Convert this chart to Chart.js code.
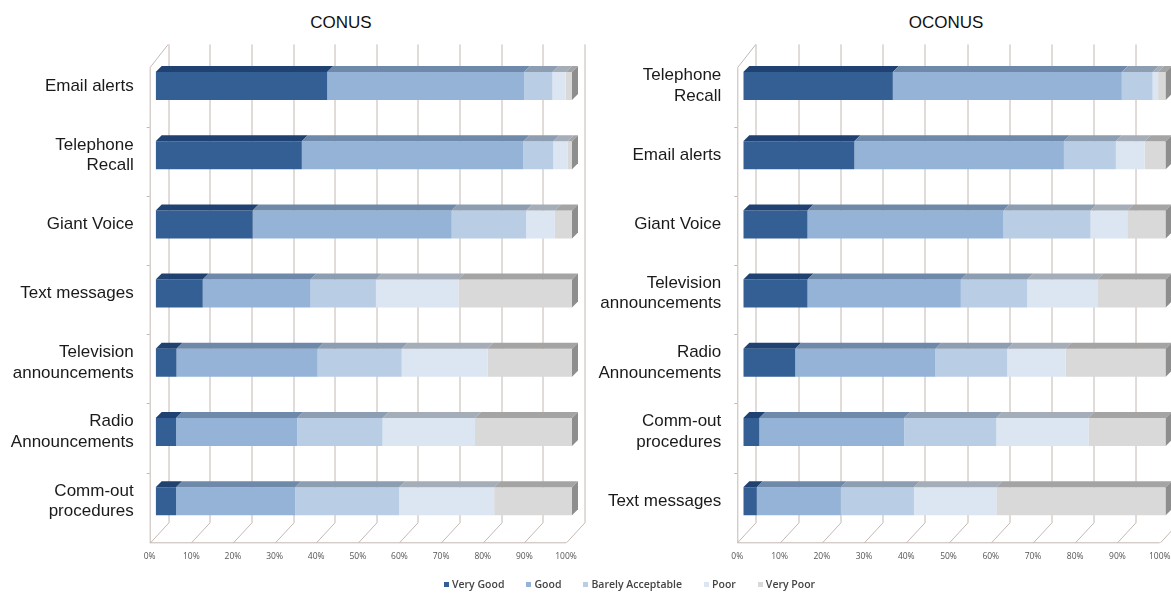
<!DOCTYPE html>
<html>
<head>
<meta charset="utf-8">
<script src="https://cdn.jsdelivr.net/npm/chart.js@4/dist/chart.umd.min.js"></script>
<style>
  body { margin: 0; width: 1171px; height: 593px; overflow: hidden; background: #fff; position: relative; font-family: 'Liberation Sans', Arial, sans-serif; }
  .panel { position: absolute; top: 0; height: 593px; }
  .title { position: absolute; top: 13px; width: 200px; text-align: center; font-size: 17px; color: #111; }
  #legend { position: absolute; left: 444px; top: 577px; font-family: 'Open Sans', sans-serif; font-size: 10.5px; font-weight: 600; color: #444; white-space: nowrap; z-index: 2; }
  #legend span.item { margin-right: 22px; }
  #legend i { display: inline-block; width: 5px; height: 5px; margin-right: 3px; vertical-align: 1px; }
</style>
</head>
<body>
<div class="title" style="left:241px">CONUS</div>
<div class="title" style="left:846px">OCONUS</div>
<div class="panel" style="left:0; width:590px"><canvas id="conusChart"></canvas></div>
<div class="panel" style="left:588px; width:596px"><canvas id="oconusChart"></canvas></div>
<div id="legend"></div>
<script>
const seriesNames = ['Very Good', 'Good', 'Barely Acceptable', 'Poor', 'Very Poor'];
const frontColors = ['#345f94', '#95b3d7', '#b9cde5', '#dce6f2', '#d9d9d9'];
const topColors = ['#1f4272', '#6f89aa', '#8d9db2', '#a5adb8', '#a4a4a4'];
const tickValues = [0, 10, 20, 30, 40, 50, 60, 70, 80, 90, 100];

// CONUS (top to bottom)
const conusCategories = ['Email alerts', ['Telephone', 'Recall'], 'Giant Voice', 'Text messages',
  ['Television', 'announcements'], ['Radio', 'Announcements'], ['Comm-out', 'procedures']];
const conusVeryGood = [41.2, 35.1, 23.3, 11.3, 5.0, 4.9, 4.9];
const conusGood = [47.3, 53.2, 47.8, 25.9, 33.9, 29.1, 28.6];
const conusBarely = [6.8, 7.2, 17.9, 15.7, 20.2, 20.5, 25.0];
const conusPoor = [3.2, 3.5, 6.9, 19.8, 20.6, 22.2, 22.8];
const conusVeryPoor = [1.5, 1.0, 4.1, 27.3, 20.3, 23.3, 18.7];

// OCONUS (top to bottom)
const oconusCategories = [['Telephone', 'Recall'], 'Email alerts', 'Giant Voice',
  ['Television', 'announcements'], ['Radio', 'Announcements'], ['Comm-out', 'procedures'], 'Text messages'];
const oconusVeryGood = [35.4, 26.3, 15.2, 15.2, 12.3, 3.8, 3.2];
const oconusGood = [54.2, 49.6, 46.4, 36.3, 33.2, 34.3, 19.9];
const oconusBarely = [7.3, 12.3, 20.6, 15.7, 17.0, 21.8, 17.3];
const oconusPoor = [1.3, 6.8, 8.7, 16.6, 13.8, 21.8, 19.5];
const oconusVeryPoor = [1.8, 5.0, 9.1, 16.2, 23.7, 18.3, 40.1];

const DEPTH = 6;       // bar top face
const WALL_DX = 12.5;  // back wall shift
const FLOOR_DX = 6;    // front floor shift
const gridColor = '#c4b8b2';

const depthPlugin = {
  id: 'depth3d',
  beforeDatasetsDraw(chart) {
    const { ctx, chartArea: a, scales: { x, y } } = chart;
    const backTop = a.top - 7, backBottom = a.bottom - 13, floorFront = a.bottom + 7;
    const x0 = x.getPixelForValue(0), x100 = x.getPixelForValue(100);
    ctx.save();
    ctx.strokeStyle = gridColor;
    ctx.lineWidth = 1;
    tickValues.forEach(v => {
      const px = Math.round(x.getPixelForValue(v)) + 0.5;
      ctx.beginPath();
      ctx.moveTo(px + WALL_DX, backTop);
      ctx.lineTo(px + WALL_DX, backBottom);
      ctx.lineTo(px - FLOOR_DX, floorFront);
      ctx.stroke();
    });
    ctx.beginPath();
    ctx.moveTo(x0 - FLOOR_DX, floorFront);
    ctx.lineTo(x100 - FLOOR_DX, floorFront);
    // left wall
    ctx.moveTo(x0 + WALL_DX, backTop);
    ctx.lineTo(x0 - FLOOR_DX + 0.5, backTop + 23);
    ctx.lineTo(x0 - FLOOR_DX + 0.5, floorFront);
    for (let i = 1; i < y.ticks.length; i++) {
      const py = Math.round((y.getPixelForTick(i - 1) + y.getPixelForTick(i)) / 2 + 6) + 0.5;
      ctx.moveTo(x0 - FLOOR_DX - 3, py);
      ctx.lineTo(x0 - FLOOR_DX, py);
    }
    ctx.stroke();
    ctx.restore();
  },
  afterDatasetsDraw(chart) {
    const ctx = chart.ctx;
    const last = chart.data.datasets.length - 1;
    ctx.save();
    chart.data.datasets.forEach((ds, i) => {
      chart.getDatasetMeta(i).data.forEach(bar => {
        const { x, y, base, height } = bar.getProps(['x', 'y', 'base', 'height'], true);
        if (Math.abs(x - base) < 0.5) return;
        const l = Math.min(x, base), r = Math.max(x, base), t = y - height / 2;
        ctx.fillStyle = topColors[i];
        ctx.beginPath();
        ctx.moveTo(l, t);
        ctx.lineTo(l + DEPTH, t - DEPTH);
        ctx.lineTo(r + DEPTH, t - DEPTH);
        ctx.lineTo(r, t);
        ctx.closePath();
        ctx.fill();
        if (i === last) {
          ctx.fillStyle = '#8e8e8e';
          ctx.beginPath();
          ctx.moveTo(r, t);
          ctx.lineTo(r + DEPTH, t - DEPTH);
          ctx.lineTo(r + DEPTH, t + height - DEPTH);
          ctx.lineTo(r, t + height);
          ctx.closePath();
          ctx.fill();
        }
      });
    });
    ctx.restore();
  }
};

function makeChart(id, labels, series, yWidth, padRight) {
  return new Chart(document.getElementById(id), {
    type: 'bar',
    data: {
      labels: labels,
      datasets: series.map((data, i) => ({
        label: seriesNames[i],
        data: data,
        backgroundColor: frontColors[i],
        borderWidth: 0,
        barPercentage: 0.405,
        categoryPercentage: 1
      }))
    },
    options: {
      indexAxis: 'y',
      responsive: true,
      maintainAspectRatio: false,
      animation: false,
      layout: { padding: { top: 51.4, right: padRight, bottom: 0, left: 0 } },
      plugins: {
        legend: { display: false },
        tooltip: { enabled: false },
        title: { display: false }
      },
      scales: {
        x: {
          stacked: true,
          min: 0,
          max: 103,
          grid: { display: false, drawTicks: false },
          border: { display: false },
          afterBuildTicks: s => { s.ticks = tickValues.map(v => ({ value: v })); },
          afterFit: s => { s.height = 57.2; s.paddingLeft = 0; s.paddingRight = 0; },
          ticks: {
            maxRotation: 0,
            autoSkip: false,
            padding: 16,
            labelOffset: -6,
            color: '#555',
            font: { family: "'Open Sans', sans-serif", size: 8.5 },
            callback: v => v + '%'
          }
        },
        y: {
          stacked: true,
          grid: { display: false, drawTicks: false },
          border: { display: false },
          afterFit: s => { s.width = yWidth; s.paddingTop = 0; s.paddingBottom = 0; },
          ticks: {
            autoSkip: false,
            padding: 22,
            color: '#1a1a1a',
            font: { family: "'Liberation Sans', Arial, sans-serif", size: 17, lineHeight: 1.2 }
          }
        }
      }
    },
    plugins: [depthPlugin]
  });
}

document.addEventListener('DOMContentLoaded', () => {
  makeChart('conusChart', conusCategories,
    [conusVeryGood, conusGood, conusBarely, conusPoor, conusVeryPoor], 155.7, 5.5);
  makeChart('oconusChart', oconusCategories,
    [oconusVeryGood, oconusGood, oconusBarely, oconusPoor, oconusVeryPoor], 155.3, 5.6);

  const legend = document.getElementById('legend');
  seriesNames.forEach((name, i) => {
    const item = document.createElement('span');
    item.className = 'item';
    item.innerHTML = '<i style="background:' + frontColors[i] + '"></i>' + name;
    legend.appendChild(item);
  });
});
</script>
</body>
</html>
